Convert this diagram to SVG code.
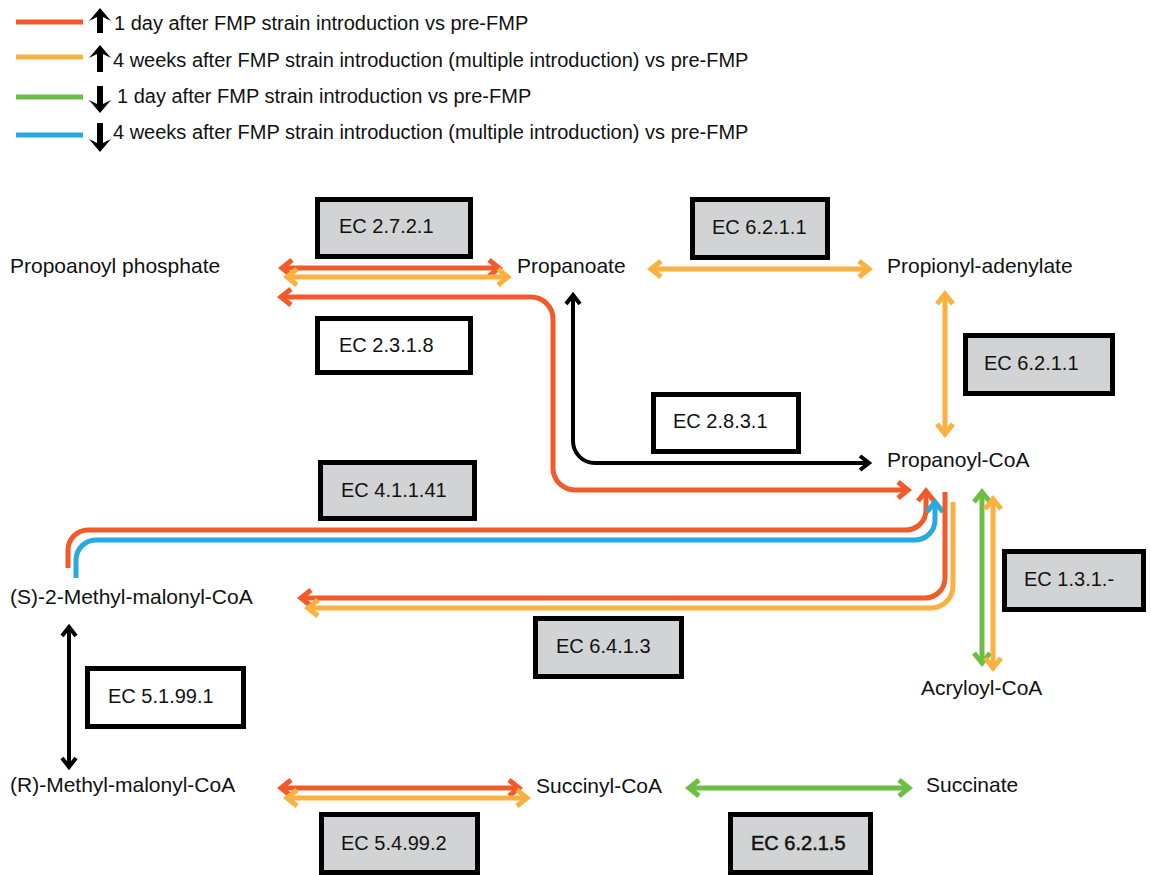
<svg xmlns="http://www.w3.org/2000/svg" width="1151" height="875" viewBox="0 0 1151 875">
<style>
text{font-family:"Liberation Sans",Arial,Helvetica,sans-serif;fill:#111}
.lg{font-size:20px}
.nd{font-size:21px}
.ec{font-size:20px}
.box{stroke:#000;stroke-width:5}
.g{fill:#D1D3D4}
.w{fill:#fff}
.c{fill:none;stroke-width:5}
.r{stroke:#F15A29}.o{stroke:#FBB040}.gr{stroke:#6DBE45}.b{stroke:#27AAE1}
.k{fill:none;stroke:#000;stroke-width:4}
</style>
<defs>
<marker id="mr" markerUnits="userSpaceOnUse" viewBox="-12 -12 20 24" markerWidth="20" markerHeight="24" refX="0" refY="0" orient="auto-start-reverse" overflow="visible"><path d="M-9,-8 L1,0 L-9,8" fill="none" stroke="#F15A29" stroke-width="5"/></marker>
<marker id="mo" markerUnits="userSpaceOnUse" viewBox="-12 -12 20 24" markerWidth="20" markerHeight="24" refX="0" refY="0" orient="auto-start-reverse" overflow="visible"><path d="M-9,-8 L1,0 L-9,8" fill="none" stroke="#FBB040" stroke-width="5"/></marker>
<marker id="mg" markerUnits="userSpaceOnUse" viewBox="-12 -12 20 24" markerWidth="20" markerHeight="24" refX="0" refY="0" orient="auto-start-reverse" overflow="visible"><path d="M-9,-8 L1,0 L-9,8" fill="none" stroke="#6DBE45" stroke-width="5"/></marker>
<marker id="mb" markerUnits="userSpaceOnUse" viewBox="-12 -12 20 24" markerWidth="20" markerHeight="24" refX="0" refY="0" orient="auto-start-reverse" overflow="visible"><path d="M-9,-8 L1,0 L-9,8" fill="none" stroke="#27AAE1" stroke-width="5"/></marker>
<marker id="mk" markerUnits="userSpaceOnUse" viewBox="-12 -12 20 24" markerWidth="20" markerHeight="24" refX="0" refY="0" orient="auto-start-reverse" overflow="visible"><path d="M-8,-7 L1,0 L-8,7" fill="none" stroke="#000" stroke-width="4"/></marker>
</defs>
<rect width="1151" height="875" fill="#fff"/>

<g id="legend">
<line x1="16" y1="22" x2="83" y2="22" class="c r"/>
<line x1="16" y1="57" x2="83" y2="57" class="c o"/>
<line x1="16" y1="97" x2="83" y2="97" class="c gr"/>
<line x1="16" y1="135" x2="83" y2="135" class="c b"/>
<path d="M100,8 L111,21 L103,17 L103,33 L97,33 L97,17 L89,21 Z" fill="#000"/>
<path d="M100,45 L111,58 L103,54 L103,72 L97,72 L97,54 L89,58 Z" fill="#000"/>
<path d="M97,86 L103,86 L103,104 L111,100 L100,113 L89,100 L97,104 Z" fill="#000"/>
<path d="M97,123 L103,123 L103,143 L111,139 L100,152 L89,139 L97,143 Z" fill="#000"/>
<text class="lg" x="114" y="30">1 day after FMP strain introduction vs pre-FMP</text>
<text class="lg" x="113" y="67">4 weeks after FMP strain introduction (multiple introduction) vs pre-FMP</text>
<text class="lg" x="117" y="103">1 day after FMP strain introduction vs pre-FMP</text>
<text class="lg" x="113" y="139">4 weeks after FMP strain introduction (multiple introduction) vs pre-FMP</text>
</g>

<g id="connectors">
<path d="M283,268 H498" class="c r" marker-start="url(#mr)" marker-end="url(#mr)"/>
<path d="M288,277 H507" class="c o" marker-start="url(#mo)" marker-end="url(#mo)"/>
<path d="M282,297 H531 A22,22 0 0 1 553,319 V468 A22,22 0 0 0 575,490 H907" class="c r" marker-start="url(#mr)" marker-end="url(#mr)"/>
<path d="M652,269 H868" class="c o" marker-start="url(#mo)" marker-end="url(#mo)"/>
<path d="M945,295 V433" class="c o" marker-start="url(#mo)" marker-end="url(#mo)"/>
<path d="M573,296 V441 A22,22 0 0 0 595,463 H868" class="k" marker-start="url(#mk)" marker-end="url(#mk)"/>
<path d="M68,568 V550 A20,20 0 0 1 88,530 H906 A20,20 0 0 0 926,510 V492" class="c r" marker-end="url(#mr)"/>
<path d="M76,578 V560 A20,20 0 0 1 96,540 H915 A20,20 0 0 0 935,520 V503" class="c b" marker-end="url(#mb)"/>
<path d="M945,492 V578 A20,20 0 0 1 925,598 H302" class="c r" marker-end="url(#mr)"/>
<path d="M953,502 V586 A22,22 0 0 1 931,608 H309" class="c o" marker-end="url(#mo)"/>
<path d="M982,493 V662" class="c gr" marker-start="url(#mg)" marker-end="url(#mg)"/>
<path d="M993,500 V667" class="c o" marker-start="url(#mo)" marker-end="url(#mo)"/>
<path d="M69,628 V766" class="k" marker-start="url(#mk)" marker-end="url(#mk)"/>
<path d="M282,788 H518" class="c r" marker-start="url(#mr)" marker-end="url(#mr)"/>
<path d="M288,798 H526" class="c o" marker-start="url(#mo)" marker-end="url(#mo)"/>
<path d="M690,788 H908" class="c gr" marker-start="url(#mg)" marker-end="url(#mg)"/>
</g>

<g id="n-propanoyl-phosphate"><text class="nd" x="10" y="273">Propoanoyl phosphate</text></g>
<g id="n-propanoate"><text class="nd" x="517" y="273">Propanoate</text></g>
<g id="n-propionyl-adenylate"><text class="nd" x="887" y="273">Propionyl-adenylate</text></g>
<g id="n-propanoyl-coa"><text class="nd" x="887" y="467">Propanoyl-CoA</text></g>
<g id="n-s-methylmalonyl"><text class="nd" x="10" y="604">(S)-2-Methyl-malonyl-CoA</text></g>
<g id="n-acryloyl-coa"><text class="nd" x="921" y="695">Acryloyl-CoA</text></g>
<g id="n-r-methylmalonyl"><text class="nd" x="10" y="792">(R)-Methyl-malonyl-CoA</text></g>
<g id="n-succinyl-coa"><text class="nd" x="536" y="793">Succinyl-CoA</text></g>
<g id="n-succinate"><text class="nd" x="926" y="792">Succinate</text></g>

<g id="ec-2-7-2-1"><rect x="317.5" y="199.5" width="153" height="57" class="box g"/><text class="ec" x="339" y="233">EC 2.7.2.1</text></g>
<g id="ec-6-2-1-1-a"><rect x="692.5" y="199.5" width="135" height="58" class="box g"/><text class="ec" x="712" y="234">EC 6.2.1.1</text></g>
<g id="ec-2-3-1-8"><rect x="317.5" y="318.5" width="153" height="54" class="box w"/><text class="ec" x="339" y="352">EC 2.3.1.8</text></g>
<g id="ec-6-2-1-1-b"><rect x="965.5" y="335.5" width="147" height="58" class="box g"/><text class="ec" x="984" y="370">EC 6.2.1.1</text></g>
<g id="ec-2-8-3-1"><rect x="653.5" y="394.5" width="145" height="57" class="box w"/><text class="ec" x="673" y="428">EC 2.8.3.1</text></g>
<g id="ec-4-1-1-41"><rect x="320.5" y="462.5" width="154" height="56" class="box g"/><text class="ec" x="341" y="497">EC 4.1.1.41</text></g>
<g id="ec-1-3-1"><rect x="1004.5" y="551.5" width="139" height="58" class="box g"/><text class="ec" x="1024" y="586">EC 1.3.1.-</text></g>
<g id="ec-6-4-1-3"><rect x="535.5" y="618.5" width="146" height="58" class="box g"/><text class="ec" x="556" y="653">EC 6.4.1.3</text></g>
<g id="ec-5-1-99-1"><rect x="87.5" y="668.5" width="156" height="58" class="box w"/><text class="ec" x="108" y="703">EC 5.1.99.1</text></g>
<g id="ec-5-4-99-2"><rect x="321.5" y="814.5" width="156" height="58" class="box g"/><text class="ec" x="341" y="850">EC 5.4.99.2</text></g>
<g id="ec-6-2-1-5"><rect x="730.5" y="814.5" width="140" height="58" class="box g"/><text class="ec" x="751" y="850" stroke="#111" stroke-width="0.5">EC 6.2.1.5</text></g>
</svg>
